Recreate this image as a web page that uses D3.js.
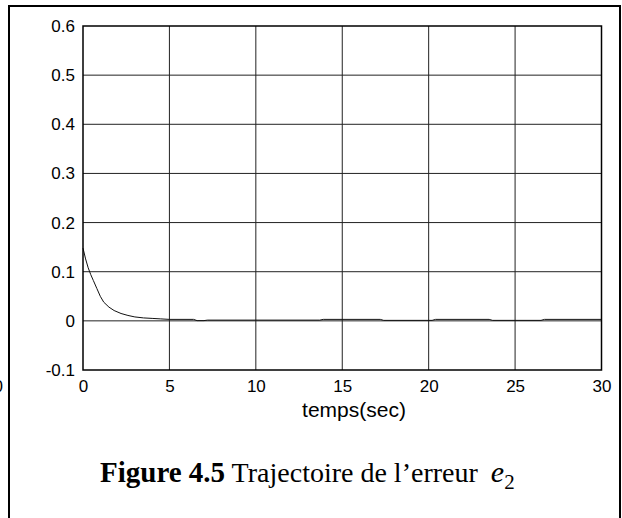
<!DOCTYPE html>
<html>
<head>
<meta charset="utf-8">
<script src="https://cdn.jsdelivr.net/npm/d3@7"></script>
<style>
  body { margin: 0; background: #fff; }
  svg { display: block; }
</style>
</head>
<body>
<script>
// time samples (s) and error e2
var timeValues = [0, 0.15, 0.3, 0.45, 0.6, 0.8, 1.0, 1.2, 1.5, 1.8, 2.2, 2.6, 3.0, 3.5, 4.0, 4.5, 5.0,
                  6.4, 6.6, 7.0, 7.2, 13.7, 13.9, 17.2, 17.4, 20.2, 20.4, 23.5, 23.7, 26.5, 26.7, 30];
var errorValues = [0.148, 0.126, 0.108, 0.094, 0.082, 0.066, 0.050, 0.038, 0.028, 0.021, 0.015, 0.011, 0.008, 0.006, 0.005, 0.004, 0.003,
                   0.003, 0.0005, 0.0005, 0.0015, 0.0015, 0.003, 0.003, 0.001, 0.001, 0.003, 0.003, 0.001, 0.001, 0.003, 0.003];
var xTicks = [0, 5, 10, 15, 20, 25, 30];
var yTicks = [-0.1, 0, 0.1, 0.2, 0.3, 0.4, 0.5, 0.6];
var xLabel = "temps(sec)";

var width = 622, height = 518;
var svg = d3.select("body").append("svg")
    .attr("width", width)
    .attr("height", height);

// page frame (left, top, right)
svg.append("path")
    .attr("d", "M9,518V6H620V518")
    .attr("fill", "none")
    .attr("stroke", "#000")
    .attr("stroke-width", 2);

// tick label of the neighbouring figure, cut by the page edge as in the original
svg.append("text")
    .attr("x", 3).attr("y", 392)
    .attr("text-anchor", "end")
    .attr("font-family", "Liberation Sans, Arial, sans-serif")
    .attr("font-size", 17)
    .text("0");

var x = d3.scaleLinear().domain([0, 30]).range([83, 601.5]);
var y = d3.scaleLinear().domain([-0.1, 0.6]).range([370, 26]);

// grid
var grid = svg.append("g");
grid.selectAll("line.vx").data(xTicks.slice(1, -1)).enter().append("line")
    .attr("x1", function (d) { return x(d); }).attr("x2", function (d) { return x(d); })
    .attr("y1", y(0.6)).attr("y2", y(-0.1))
    .attr("stroke", "#222").attr("stroke-width", 1);
grid.selectAll("line.hy").data(yTicks.slice(1, -1)).enter().append("line")
    .attr("y1", function (d) { return y(d); }).attr("y2", function (d) { return y(d); })
    .attr("x1", x(0)).attr("x2", x(30))
    .attr("stroke", "#222").attr("stroke-width", 1);

// axes (labels only, frame drawn separately)
var xAxis = svg.append("g")
    .attr("transform", "translate(0," + y(-0.1) + ")")
    .call(d3.axisBottom(x).tickValues(xTicks).tickSize(0).tickPadding(10).tickFormat(d3.format("d")));
var yAxis = svg.append("g")
    .attr("transform", "translate(" + x(0) + ",0)")
    .call(d3.axisLeft(y).tickValues(yTicks).tickSize(0).tickPadding(8).tickFormat(function (d) {
        return d === 0 ? "0" : d.toFixed(1);
    }));
[xAxis, yAxis].forEach(function (a) {
    a.select(".domain").remove();
    a.selectAll("text")
        .attr("font-family", "Liberation Sans, Arial, sans-serif")
        .attr("font-size", 17)
        .attr("fill", "#000");
});

// curve
var line = d3.line()
    .x(function (d, i) { return x(timeValues[i]); })
    .y(function (d) { return y(d); });
svg.append("path")
    .datum(errorValues)
    .attr("d", line)
    .attr("fill", "none")
    .attr("stroke", "#111")
    .attr("stroke-width", 1);

// plot box
svg.append("rect")
    .attr("x", x(0)).attr("y", y(0.6))
    .attr("width", x(30) - x(0)).attr("height", y(-0.1) - y(0.6))
    .attr("fill", "none")
    .attr("stroke", "#000")
    .attr("stroke-width", 1.5);

svg.append("text")
    .attr("x", 354).attr("y", 417)
    .attr("text-anchor", "middle")
    .attr("font-family", "Liberation Sans, Arial, sans-serif")
    .attr("font-size", 21)
    .text(xLabel);

// caption
var cap = svg.append("text")
    .attr("x", 100).attr("y", 482)
    .attr("font-family", "Liberation Serif, Times New Roman, serif")
    .attr("font-size", 28);
cap.append("tspan").attr("font-weight", "bold").attr("font-size", 29).text("Figure 4.5");
cap.append("tspan").text(" Trajectoire de l\u2019erreur");
cap.append("tspan").attr("font-style", "italic").attr("font-size", 30).attr("dx", 13).text("e");
cap.append("tspan").attr("font-size", 21).attr("dy", 7).text("2");
</script>
</body>
</html>
